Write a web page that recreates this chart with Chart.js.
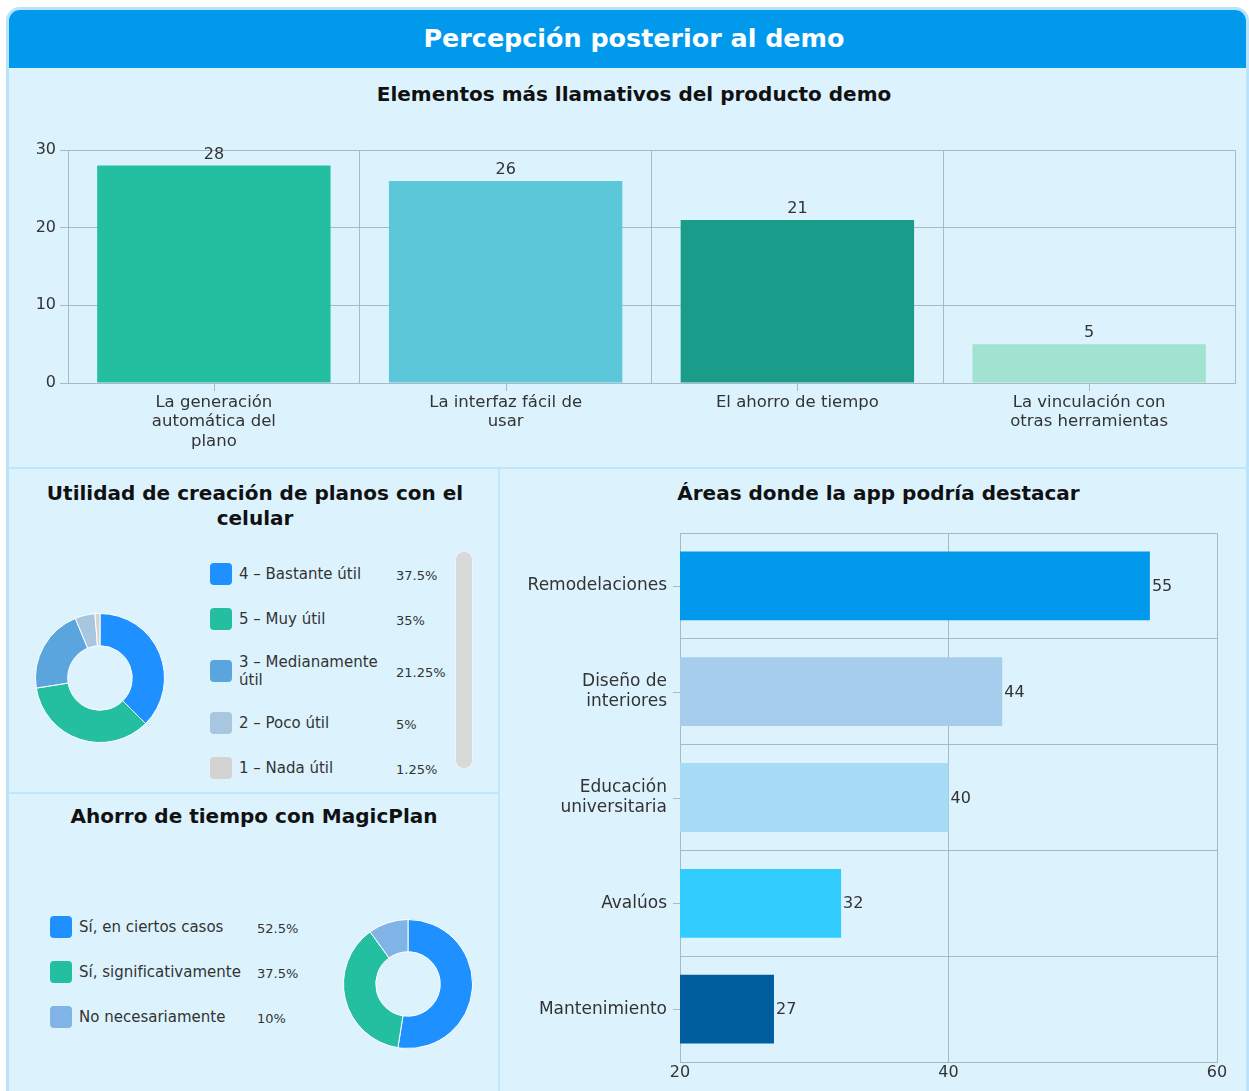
<!DOCTYPE html>
<html lang="es">
<head>
<meta charset="utf-8">
<title>Percepción posterior al demo</title>
<script src="https://cdn.jsdelivr.net/npm/chart.js@4.4.1/dist/chart.umd.min.js"></script>
<style>
  body { margin: 0; background: #fff; width: 1249px; height: 1091px; overflow: hidden; position: relative; font-family: "DejaVu Sans", "Open Sans", sans-serif; color: #222; }
  .abs { position: absolute; }
  #panel { left: 6px; top: 7px; width: 1237px; height: 1100px; background: #DCF3FE; border: 3px solid #B8E3FA; border-radius: 14px 14px 0 0; }
  #header { left: 9px; top: 10px; width: 1237px; height: 58px; box-sizing: border-box; padding-left: 13px; background: #0099EC; border-radius: 11px 11px 0 0; color: #fff; font-weight: 700; font-size: 25.4px; line-height: 56px; text-align: center; }
  .title { font-weight: 700; font-size: 20px; color: #111; text-align: center; line-height: 25px; }
  .sep { background: #BFE6FB; }
  .legend { display: flex; flex-direction: column; gap: 23px; font-size: 15px; color: #333; overflow: hidden; }
  .row { display: flex; align-items: center; }
  .sw { width: 22px; height: 22px; border-radius: 4px; margin-right: 7px; flex: none; }
  .lab { box-sizing: border-box; padding-right: 8px; line-height: 18px; flex: none; }
  .pct { font-size: 13px; margin-top: 3px; }
</style>
</head>
<body>
<div id="panel" class="abs"></div>
<div id="header" class="abs">Percepción posterior al demo</div>

<div class="abs title" style="left:9px;width:1250px;top:82px;">Elementos más llamativos del producto demo</div>
<canvas id="topChart" class="abs" style="left:0;top:130px;" width="1249" height="335"></canvas>

<div class="abs sep" style="left:9px;top:467px;width:1240px;height:2px;"></div>
<div class="abs sep" style="left:498px;top:467px;width:2px;height:630px;"></div>
<div class="abs sep" style="left:9px;top:792px;width:490px;height:2px;"></div>

<div class="abs title" style="left:30px;width:450px;top:481px;">Utilidad de creación de planos con el celular</div>
<canvas id="usefulChart" class="abs" style="left:35px;top:613px;" width="130" height="130"></canvas>
<div id="usefulLegend" class="abs legend" style="left:210px;top:563px;width:240px;height:218px;"></div>
<div class="abs" style="left:456px;top:552px;width:16px;height:216px;background:#D9D9D9;border-radius:8px;box-shadow:0 0 0 1px #f4f4f4;"></div>

<div class="abs title" style="left:9px;width:490px;top:804px;">Ahorro de tiempo con MagicPlan</div>
<div id="savingLegend" class="abs legend" style="left:50px;top:916px;width:270px;"></div>
<canvas id="savingChart" class="abs" style="left:343px;top:919px;" width="130" height="130"></canvas>

<div class="abs title" style="left:500px;width:757px;top:481px;">Áreas donde la app podría destacar</div>
<canvas id="areasChart" class="abs" style="left:500px;top:528px;" width="749" height="563"></canvas>

<script>
// ---- data ----
const topLabels = [["La generación", "automática del", "plano"], ["La interfaz fácil de", "usar"], "El ahorro de tiempo", ["La vinculación con", "otras herramientas"]];
const topValues = [28, 26, 21, 5];

const usefulLabels = ["4 – Bastante útil", "5 – Muy útil", "3 – Medianamente útil", "2 – Poco útil", "1 – Nada útil"];
const usefulValues = [37.5, 35, 21.25, 5, 1.25];

const savingLabels = ["Sí, en ciertos casos", "Sí, significativamente", "No necesariamente"];
const savingValues = [52.5, 37.5, 10];

const areaLabels = ["Remodelaciones", ["Diseño de", "interiores"], ["Educación", "universitaria"], "Avalúos", "Mantenimiento"];
const areaValues = [55, 44, 40, 32, 27];

// ---- colours ----
const topColors = ["#23BFA0", "#5BC7D8", "#1A9C8A", "#A1E3D0"];
const usefulColors = ["#1E90FF", "#23BFA0", "#5BA5DE", "#A8C6E0", "#D3D3D3"];
const savingColors = ["#1E90FF", "#23BFA0", "#80B4E6"];
const areaColors = ["#0099EC", "#A6CDEC", "#A7DBF6", "#33CCFF", "#005E9E"];

const FONT = '"DejaVu Sans", "Open Sans", sans-serif';
const gridColor = "#A9B9C4";
Chart.defaults.font.family = FONT;
Chart.defaults.color = "#333";

/* value labels next to bars */
const valueLabels = {
  id: "valueLabels",
  afterDatasetsDraw(chart, args, opts) {
    const ctx = chart.ctx;
    const meta = chart.getDatasetMeta(0);
    ctx.save();
    ctx.font = opts.size + "px " + FONT;
    ctx.fillStyle = "#333";
    meta.data.forEach((bar, i) => {
      const v = chart.data.datasets[0].data[i];
      if (opts.horizontal) {
        ctx.textAlign = "left";
        ctx.textBaseline = "middle";
        ctx.fillText(v, bar.x + 2, bar.y + 1);
      } else {
        ctx.textAlign = "center";
        ctx.textBaseline = "bottom";
        ctx.fillText(v, bar.x, bar.y - 3);
      }
    });
    ctx.restore();
  }
};

/* small tick marks at category centres */
const centerTicks = {
  id: "centerTicks",
  afterDraw(chart, args, opts) {
    const s = chart.scales[opts.axis];
    const ctx = chart.ctx;
    ctx.save();
    ctx.strokeStyle = gridColor;
    ctx.lineWidth = 1;
    s.ticks.forEach((t, i) => {
      const p = Math.round(s.getPixelForTick(i)) + 0.5;
      ctx.beginPath();
      if (opts.axis === "x") {
        ctx.moveTo(p, s.top);
        ctx.lineTo(p, s.top + opts.len);
      } else {
        ctx.moveTo(s.right, p);
        ctx.lineTo(s.right - opts.len, p);
      }
      ctx.stroke();
    });
    ctx.restore();
  }
};

/* ===== top bar chart ===== */
new Chart(document.getElementById("topChart"), {
  type: "bar",
  data: {
    labels: topLabels,
    datasets: [{ data: topValues, backgroundColor: topColors, categoryPercentage: 1, barPercentage: 0.8 }]
  },
  options: {
    responsive: false,
    animation: false,
    layout: { padding: { top: 20, right: 14, left: 0, bottom: 0 } },
    plugins: { legend: { display: false }, tooltip: { enabled: false }, valueLabels: { size: 16 }, centerTicks: { axis: "x", len: 8 } },
    scales: {
      x: {
        grid: { color: gridColor, offset: true, drawTicks: false },
        border: { color: gridColor },
        ticks: { font: { size: 16.5, lineHeight: 1.18 }, padding: 10, maxRotation: 0, autoSkip: false },
        afterFit: s => { s.height = 82; }
      },
      y: {
        min: 0, max: 30,
        grid: { color: gridColor, tickLength: 8 },
        border: { color: gridColor },
        ticks: { stepSize: 10, font: { size: 16 }, padding: 4 },
        afterFit: s => { s.width = 68; }
      }
    }
  },
  plugins: [valueLabels, centerTicks]
});

/* ===== donuts ===== */
function donut(id, values, colors) {
  return new Chart(document.getElementById(id), {
    type: "doughnut",
    data: { datasets: [{ data: values, backgroundColor: colors, borderColor: "#fff", borderWidth: 1 }] },
    options: {
      responsive: false,
      animation: false,
      cutout: "50%",
      plugins: { legend: { display: false }, tooltip: { enabled: false } }
    }
  });
}
donut("usefulChart", usefulValues, usefulColors);
donut("savingChart", savingValues, savingColors);

function buildLegend(id, labels, values, colors, labelWidth) {
  const box = document.getElementById(id);
  labels.forEach((l, i) => {
    const row = document.createElement("div");
    row.className = "row";
    row.innerHTML = '<span class="sw" style="background:' + colors[i] + '"></span>' +
      '<span class="lab" style="width:' + labelWidth + 'px">' + l + '</span>' +
      '<span class="pct">' + values[i] + '%</span>';
    box.appendChild(row);
  });
}
buildLegend("usefulLegend", usefulLabels, usefulValues, usefulColors, 157);
buildLegend("savingLegend", savingLabels, savingValues, savingColors, 178);

/* ===== horizontal bar chart ===== */
new Chart(document.getElementById("areasChart"), {
  type: "bar",
  data: {
    labels: areaLabels,
    datasets: [{ data: areaValues, backgroundColor: areaColors, categoryPercentage: 1, barPercentage: 0.65 }]
  },
  options: {
    indexAxis: "y",
    responsive: false,
    animation: false,
    layout: { padding: { top: 5, right: 32, left: 0, bottom: 0 } },
    plugins: { legend: { display: false }, tooltip: { enabled: false }, valueLabels: { size: 16, horizontal: true }, centerTicks: { axis: "y", len: 7 } },
    scales: {
      x: {
        min: 20, max: 60,
        grid: { color: gridColor, drawTicks: false },
        border: { color: gridColor },
        ticks: { stepSize: 20, font: { size: 16 }, padding: 1 },
        afterFit: s => { s.height = 29; }
      },
      y: {
        grid: { color: gridColor, offset: true, drawTicks: false },
        border: { color: gridColor },
        ticks: { font: { size: 17, lineHeight: 1.15 }, padding: 13, autoSkip: false },
        afterFit: s => { s.width = 180; s.paddingTop = 0; s.paddingBottom = 0; }
      }
    }
  },
  plugins: [valueLabels, centerTicks]
});
</script>
</body>
</html>
